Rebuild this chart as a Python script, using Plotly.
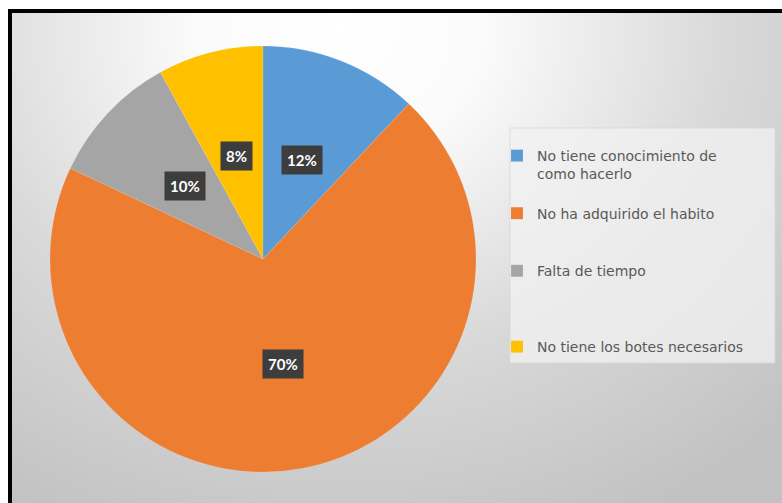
import base64
import math
import plotly.graph_objects as go

# Survey answers and their shares (%)
legend_text = [
    "No tiene conocimiento de<br>como hacerlo<br> ",
    "No ha adquirido el habito<br> <br> ",
    "Falta de tiempo<br> <br> <br> ",
    "No tiene los botes necesarios",
]
values = [12, 70, 10, 8]
colors = ["#5B9BD5", "#ED7D31", "#A5A5A5", "#FFC000"]

W, H = 782, 503

# Pie placement (pixels)
cx, cy, R = 263, 259, 213

# Soft radial background drawn as an SVG image behind the plot
svg = f"""<svg xmlns='http://www.w3.org/2000/svg' width='{W}' height='{H}' viewBox='0 0 {W} {H}' preserveAspectRatio='none'>
<defs><radialGradient id='g' gradientUnits='userSpaceOnUse' cx='340' cy='30' r='640'
 gradientTransform='translate(340 30) scale(1 0.85) translate(-340 -30)'>
<stop offset='0' stop-color='#ffffff'/>
<stop offset='0.22' stop-color='#fbfbfb'/>
<stop offset='0.6' stop-color='#d9d9d9'/>
<stop offset='1' stop-color='#c2c2c2'/>
</radialGradient></defs>
<rect x='0' y='0' width='{W}' height='{H}' fill='white'/>
<rect x='10' y='11' width='{W}' height='{H}' fill='url(#g)'/>
</svg>"""
bg_src = "data:image/svg+xml;base64," + base64.b64encode(svg.encode()).decode()

fig = go.Figure()
fig.add_trace(go.Pie(
    labels=legend_text,
    values=values,
    sort=False,
    direction="clockwise",
    rotation=0,
    marker=dict(colors=colors, line=dict(color="rgba(255,255,255,0.2)", width=0.5)),
    textinfo="none",
    hoverinfo="label+percent",
    domain=dict(x=[(cx - R) / W, (cx + R) / W], y=[1 - (cy + R) / H, 1 - (cy - R) / H]),
))

# Percentage tags placed halfway along each slice's middle angle
total = sum(values)
annotations = []
start = 0.0
for v in values:
    mid = (start + v / 2) / total * 2 * math.pi
    start += v
    px = cx + 0.5 * R * math.sin(mid)
    py = cy - 0.5 * R * math.cos(mid)
    annotations.append(dict(
        x=px / W, y=1 - py / H, xref="paper", yref="paper",
        xanchor="center", yanchor="middle",
        text=f"<b>{round(v / total * 100)}%</b>", showarrow=False,
        font=dict(family="Lato", size=15, color="white"),
        bgcolor="#3d3d3d", borderpad=5,
    ))

shapes = [
    # legend panel
    dict(type="rect", xref="paper", yref="paper",
         x0=510 / W, x1=775 / W, y0=1 - 363 / H, y1=1 - 128 / H,
         fillcolor="rgba(242,242,242,0.75)", line=dict(color="rgba(215,215,215,0.8)", width=1),
         layer="below"),
    # black frame on top and left edges
    dict(type="path", xref="paper", yref="paper",
         path=f"M {10 / W} 0 L {10 / W} {1 - 11 / H} L 1.01 {1 - 11 / H}",
         line=dict(color="black", width=4)),
]

fig.update_layout(
    width=W, height=H,
    margin=dict(l=0, r=0, t=0, b=0),
    paper_bgcolor="white",
    plot_bgcolor="rgba(0,0,0,0)",
    images=[dict(source=bg_src, xref="paper", yref="paper", x=0, y=1,
                 sizex=1, sizey=1, sizing="stretch", layer="below")],
    showlegend=True,
    legend=dict(
        x=497 / W, y=1 - 140 / H, xanchor="left", yanchor="top",
        bgcolor="rgba(0,0,0,0)", valign="top",
        font=dict(family="DejaVu Sans", size=14, color="#595959"),
        itemclick=False,
    ),
    annotations=annotations,
    shapes=shapes,
)

fig.write_html("out.html")
